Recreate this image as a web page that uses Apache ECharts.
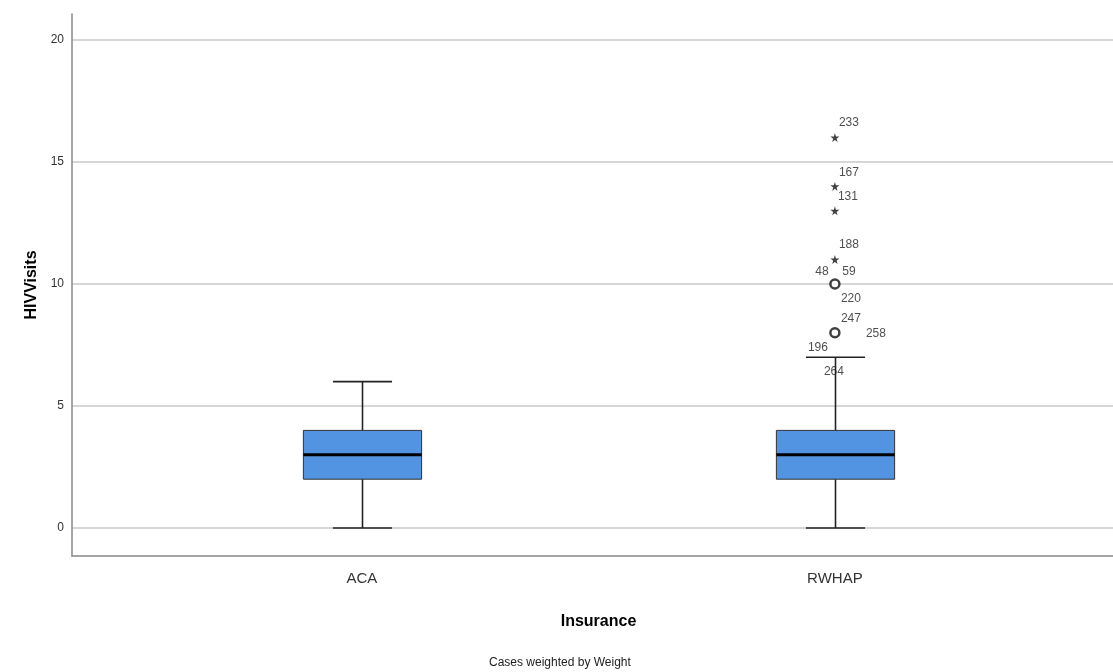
<!DOCTYPE html>
<html>
<head>
<meta charset="utf-8">
<script src="https://cdn.jsdelivr.net/npm/echarts@6/dist/echarts.min.js"></script>
<style>
  html, body { margin: 0; padding: 0; background: #fff; }
  #chart { width: 1113px; height: 672px; }
</style>
</head>
<body>
<div id="chart"></div>
<script>
const categories = ['ACA', 'RWHAP']
// min, q1, median, q3, max (whisker ends)
const boxStats = [
  [0, 2, 3, 4, 6],
  [0, 2, 3, 4, 7]
]
const yTicks = [0, 5, 10, 15, 20]

// extreme values (stars) for RWHAP
const extremeValues = [16, 14, 13, 11]
const extremeIds = ['233', '167', '131', '188']
// outliers (circles) for RWHAP
const outlierValues = [10, 8]
const outlierIds = [['48', '59', '220'], ['247', '258', '196', '264']]

// label offsets in px, style only
const labelOffsets = {
  '233': [14, -15], '167': [14, -14], '131': [13, -14], '188': [14, -15],
  '48': [-13, -12], '59': [14, -12], '220': [16, 15],
  '247': [16, -14], '258': [41, 1], '196': [-17, 15], '264': [-1, 39]
}

const FONT = '"Liberation Sans", Arial, sans-serif'
const starPath = 'path://M50,0 L61,35 L98,35 L68,57 L79,91 L50,70 L21,91 L32,57 L2,35 L39,35 Z'

const boxData = boxStats.map((s, i) => [i].concat(s))

function renderBox(params, api) {
  const x = api.value(0)
  const pMin = api.coord([x, api.value(1)])
  const pQ1 = api.coord([x, api.value(2)])
  const pMed = api.coord([x, api.value(3)])
  const pQ3 = api.coord([x, api.value(4)])
  const pMax = api.coord([x, api.value(5)])
  const w = api.size([0.25, 0])[0]
  const cx = Math.round(pMed[0]) + 0.5
  const lineStyle = { stroke: '#222', lineWidth: 1.6 }
  return {
    type: 'group',
    children: [
      { type: 'line', shape: { x1: cx, y1: pMin[1], x2: cx, y2: pQ1[1] }, style: lineStyle },
      { type: 'line', shape: { x1: cx, y1: pQ3[1], x2: cx, y2: pMax[1] }, style: lineStyle },
      { type: 'line', shape: { x1: cx - w / 4, y1: pMin[1], x2: cx + w / 4, y2: pMin[1] }, style: lineStyle },
      { type: 'line', shape: { x1: cx - w / 4, y1: pMax[1], x2: cx + w / 4, y2: pMax[1] }, style: lineStyle },
      {
        type: 'rect',
        shape: { x: cx - w / 2, y: pQ3[1], width: w, height: pQ1[1] - pQ3[1] },
        style: { fill: '#5294e2', stroke: '#333', lineWidth: 1 }
      },
      { type: 'line', shape: { x1: cx - w / 2, y1: pMed[1], x2: cx + w / 2, y2: pMed[1] }, style: { stroke: '#000', lineWidth: 3 } }
    ]
  }
}

const labelPoints = []
extremeValues.forEach((v, i) => labelPoints.push({ value: [1, v], id: extremeIds[i] }))
outlierValues.forEach((v, i) => {
  outlierIds[i].forEach(id => labelPoints.push({ value: [1, v], id: id }))
})

const chart = echarts.init(document.getElementById('chart'))
chart.setOption({
  animation: false,
  title: {
    text: 'Cases weighted by Weight',
    left: 484,
    top: 652,
    textStyle: { fontFamily: FONT, fontSize: 12, fontWeight: 'normal', color: '#222' }
  },
  grid: { left: 72, right: 0, top: 14, bottom: 116 },
  xAxis: {
    type: 'value',
    min: -0.613,
    max: 1.588,
    name: 'Insurance',
    nameLocation: 'middle',
    nameGap: 58,
    nameTextStyle: { fontFamily: FONT, fontSize: 16, fontWeight: 'bold', color: '#000', padding: [0, 0, 0, 12] },
    axisLine: { show: true, onZero: false, lineStyle: { color: '#888', width: 1.5 } },
    axisTick: { show: false },
    splitLine: { show: false },
    axisLabel: {
      customValues: [0, 1],
      margin: 15,
      fontFamily: FONT,
      fontSize: 15,
      color: '#333',
      formatter: v => categories[Math.round(v)]
    }
  },
  yAxis: {
    type: 'value',
    min: -1.148,
    max: 21.066,
    name: 'HIVVisits',
    nameLocation: 'middle',
    nameRotate: 90,
    nameGap: 32,
    nameTextStyle: { fontFamily: FONT, fontSize: 16, fontWeight: 'bold', color: '#000' },
    axisLine: { show: true, onZero: false, lineStyle: { color: '#888', width: 1.5 } },
    axisTick: { show: false, customValues: yTicks },
    axisLabel: {
      customValues: yTicks,
      margin: 8,
      fontFamily: FONT,
      fontSize: 12,
      color: '#333'
    },
    splitLine: { show: true, lineStyle: { color: '#c8c8c8', width: 1.5 } }
  },
  series: [
    {
      type: 'custom',
      renderItem: renderBox,
      data: boxData,
      encode: { x: 0, y: [1, 2, 3, 4, 5] },
      z: 3
    },
    {
      type: 'scatter',
      symbol: starPath,
      symbolSize: 9,
      itemStyle: { color: '#111' },
      data: extremeValues.map(v => [1, v]),
      z: 4
    },
    {
      type: 'scatter',
      symbol: 'circle',
      symbolSize: 9,
      itemStyle: { color: '#fff', borderColor: '#111', borderWidth: 2.5 },
      data: outlierValues.map(v => [1, v]),
      z: 4
    },
    {
      type: 'scatter',
      symbolSize: 0,
      silent: true,
      data: labelPoints.map(p => ({
        value: p.value,
        label: {
          show: true,
          formatter: p.id,
          position: 'inside',
          offset: labelOffsets[p.id],
          fontFamily: FONT,
          fontSize: 12,
          color: '#222'
        }
      })),
      z: 5
    }
  ]
})
</script>
</body>
</html>
